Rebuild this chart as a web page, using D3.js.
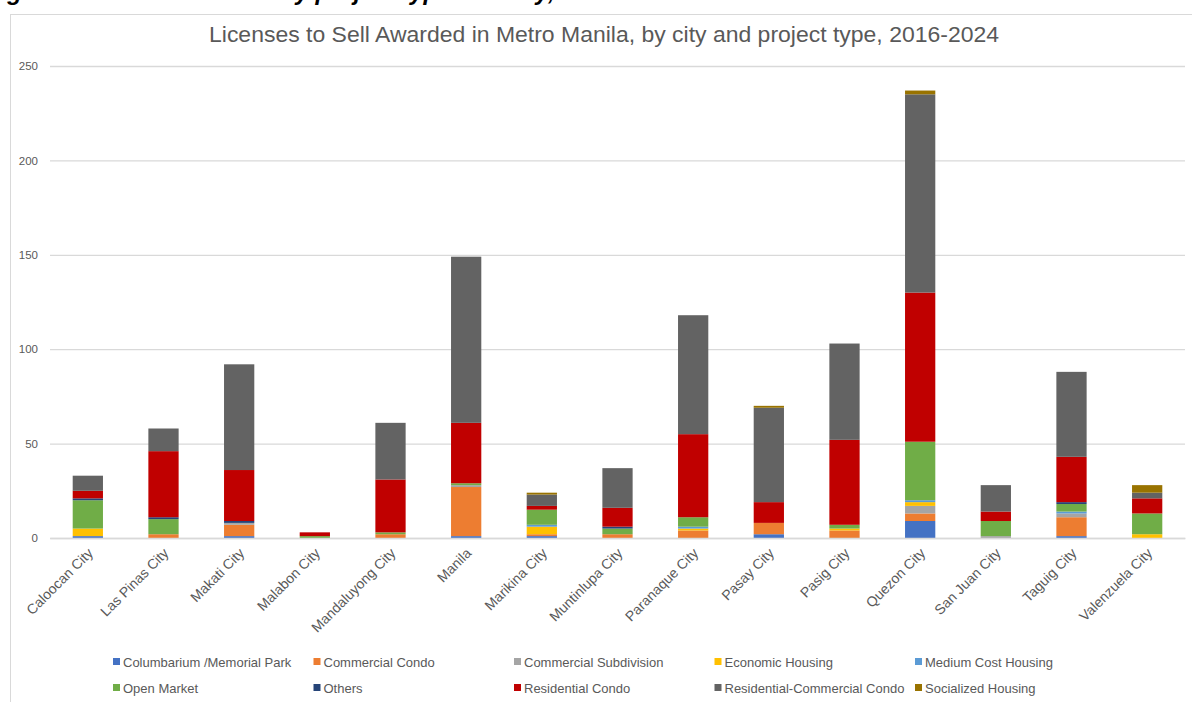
<!DOCTYPE html>
<html>
<head>
<meta charset="utf-8">
<script src="https://cdn.jsdelivr.net/npm/d3@7"></script>
<style>
    body { margin: 0; background: #fff; }
    svg { display: block; font-family: "Liberation Sans", Arial, sans-serif; }
</style>
</head>
<body>
<div id="chart"></div>
<script>
'use strict';

// data
var cities = ["Caloocan City", "Las Pinas City", "Makati City", "Malabon City", "Mandaluyong City",
    "Manila", "Marikina City", "Muntinlupa City", "Paranaque City", "Pasay City",
    "Pasig City", "Quezon City", "San Juan City", "Taguig City", "Valenzuela City"];

var seriesNames = ["Columbarium /Memorial Park", "Commercial Condo", "Commercial Subdivision",
    "Economic Housing", "Medium Cost Housing", "Open Market", "Others",
    "Residential Condo", "Residential-Commercial Condo", "Socialized Housing"];

var columbarium   = [1, 0, 1, 0, 0, 1, 1, 0, 0, 2, 0, 9, 0, 1, 0];
var commCondo     = [0, 2, 6, 0, 2, 26, 1, 2, 4, 6, 4, 4, 0, 10, 0];
var commSubdiv    = [0, 0, 1, 0, 0, 1, 0, 0, 0, 0, 0, 4, 1, 2, 0];
var economic      = [4, 0, 0, 0, 0, 0, 4, 0, 1, 0, 1, 2, 0, 0, 2];
var mediumCost    = [0, 0, 0, 0, 0, 0, 1, 0, 1, 0, 0, 1, 0, 1, 0];
var openMarket    = [15, 8, 0, 1, 1, 1, 8, 3, 5, 0, 2, 31, 8, 4, 11];
var others        = [1, 1, 1, 0, 0, 0, 0, 1, 0, 0, 0, 0, 0, 1, 0];
var resCondo      = [4, 35, 27, 2, 28, 32, 2, 10, 44, 11, 45, 79, 5, 24, 8];
var resCommCondo  = [8, 12, 56, 0, 30, 88, 6, 21, 63, 50, 51, 105, 14, 45, 3];
var socialized    = [0, 0, 0, 0, 0, 0, 1, 0, 0, 1, 0, 2, 0, 0, 4];

var yTicks = [0, 50, 100, 150, 200, 250];

var colors = ["#4472C4", "#ED7D31", "#A5A5A5", "#FFC000", "#5B9BD5",
    "#70AD47", "#264478", "#C00000", "#636363", "#997300"];

var allSeries = [columbarium, commCondo, commSubdiv, economic, mediumCost,
    openMarket, others, resCondo, resCommCondo, socialized];

// one row per city for d3.stack
var table = cities.map(function (c, i) {
    var row = {city: c};
    seriesNames.forEach(function (s, j) { row[s] = allSeries[j][i]; });
    return row;
});

var width = 1192,
    height = 702,
    plot = {left: 50, right: 1185, top: 66, bottom: 538};

var svg = d3.select("#chart").append("svg")
    .attr("width", width)
    .attr("height", height);

// caption line of the page above the chart, cut off by the screenshot
svg.append("text")
    .attr("x", -14)
    .attr("y", 0)
    .style("font-weight", "bold")
    .style("font-style", "italic")
    .style("font-size", "24px")
    .style("fill", "#000")
    .text("Figure 6. Licenses to Sell by project type and city, 2016-2024");

// chart frame
svg.append("rect")
    .attr("x", 10.5)
    .attr("y", 14.5)
    .attr("width", 1200)
    .attr("height", 700)
    .style("fill", "#fff")
    .style("stroke", "#d9d9d9");

svg.append("text")
    .attr("x", 604)
    .attr("y", 42)
    .attr("textLength", 790)
    .attr("lengthAdjust", "spacingAndGlyphs")
    .style("text-anchor", "middle")
    .style("font-size", "22px")
    .style("fill", "#595959")
    .text("Licenses to Sell Awarded in Metro Manila, by city and project type, 2016-2024");

var x = d3.scaleBand()
    .domain(cities)
    .range([plot.left, plot.right])
    .paddingInner(0.6)
    .paddingOuter(0.3);

var y = d3.scaleLinear()
    .domain([0, 250])
    .range([plot.bottom, plot.top]);

// gridlines + y labels
var yAxis = svg.append("g")
    .attr("transform", "translate(" + plot.left + ",0)")
    .call(d3.axisLeft(y).tickValues(yTicks).tickSize(-(plot.right - plot.left)).tickPadding(12));
yAxis.select(".domain").remove();
yAxis.selectAll(".tick line").style("stroke", "#d9d9d9").style("stroke-width", 1.3);
yAxis.selectAll(".tick text").style("fill", "#595959").style("font-size", "11.5px")
    .style("font-family", "Liberation Sans, Arial, sans-serif");

var stack = d3.stack().keys(seriesNames);
var layers = stack(table);

svg.append("g").selectAll("g")
    .data(layers)
    .join("g")
    .style("fill", function (d, i) { return colors[i]; })
    .selectAll("rect")
    .data(function (d) { return d; })
    .join("rect")
    .attr("x", function (d) { return x(d.data.city); })
    .attr("y", function (d) { return y(d[1]); })
    .attr("width", x.bandwidth())
    .attr("height", function (d) { return y(d[0]) - y(d[1]); });

// category axis with rotated labels
var xAxis = svg.append("g")
    .attr("transform", "translate(0," + plot.bottom + ")")
    .call(d3.axisBottom(x).tickSize(0).tickPadding(0));
xAxis.select(".domain").style("stroke", "#d9d9d9").style("stroke-width", 1.3);
xAxis.selectAll(".tick text")
    .style("fill", "#595959")
    .style("font-size", "14px")
    .style("font-family", "Liberation Sans, Arial, sans-serif")
    .style("text-anchor", "end")
    .attr("dy", 0)
    .attr("y", 0)
    .attr("transform", "translate(6,16) rotate(-45)");

// legend, 5 columns x 2 rows
var legend = svg.append("g")
    .selectAll("g")
    .data(seriesNames)
    .join("g")
    .attr("transform", function (d, i) {
        return "translate(" + (113 + (i % 5) * 200.5) + "," + (662 + Math.floor(i / 5) * 26) + ")";
    });

legend.append("rect")
    .attr("x", 0)
    .attr("y", -4)
    .attr("width", 7)
    .attr("height", 7)
    .style("fill", function (d, i) { return colors[i]; });

legend.append("text")
    .attr("x", 10)
    .attr("y", 0)
    .attr("dy", "0.35em")
    .style("font-size", "13px")
    .style("fill", "#595959")
    .text(function (d) { return d; });
</script>
</body>
</html>
